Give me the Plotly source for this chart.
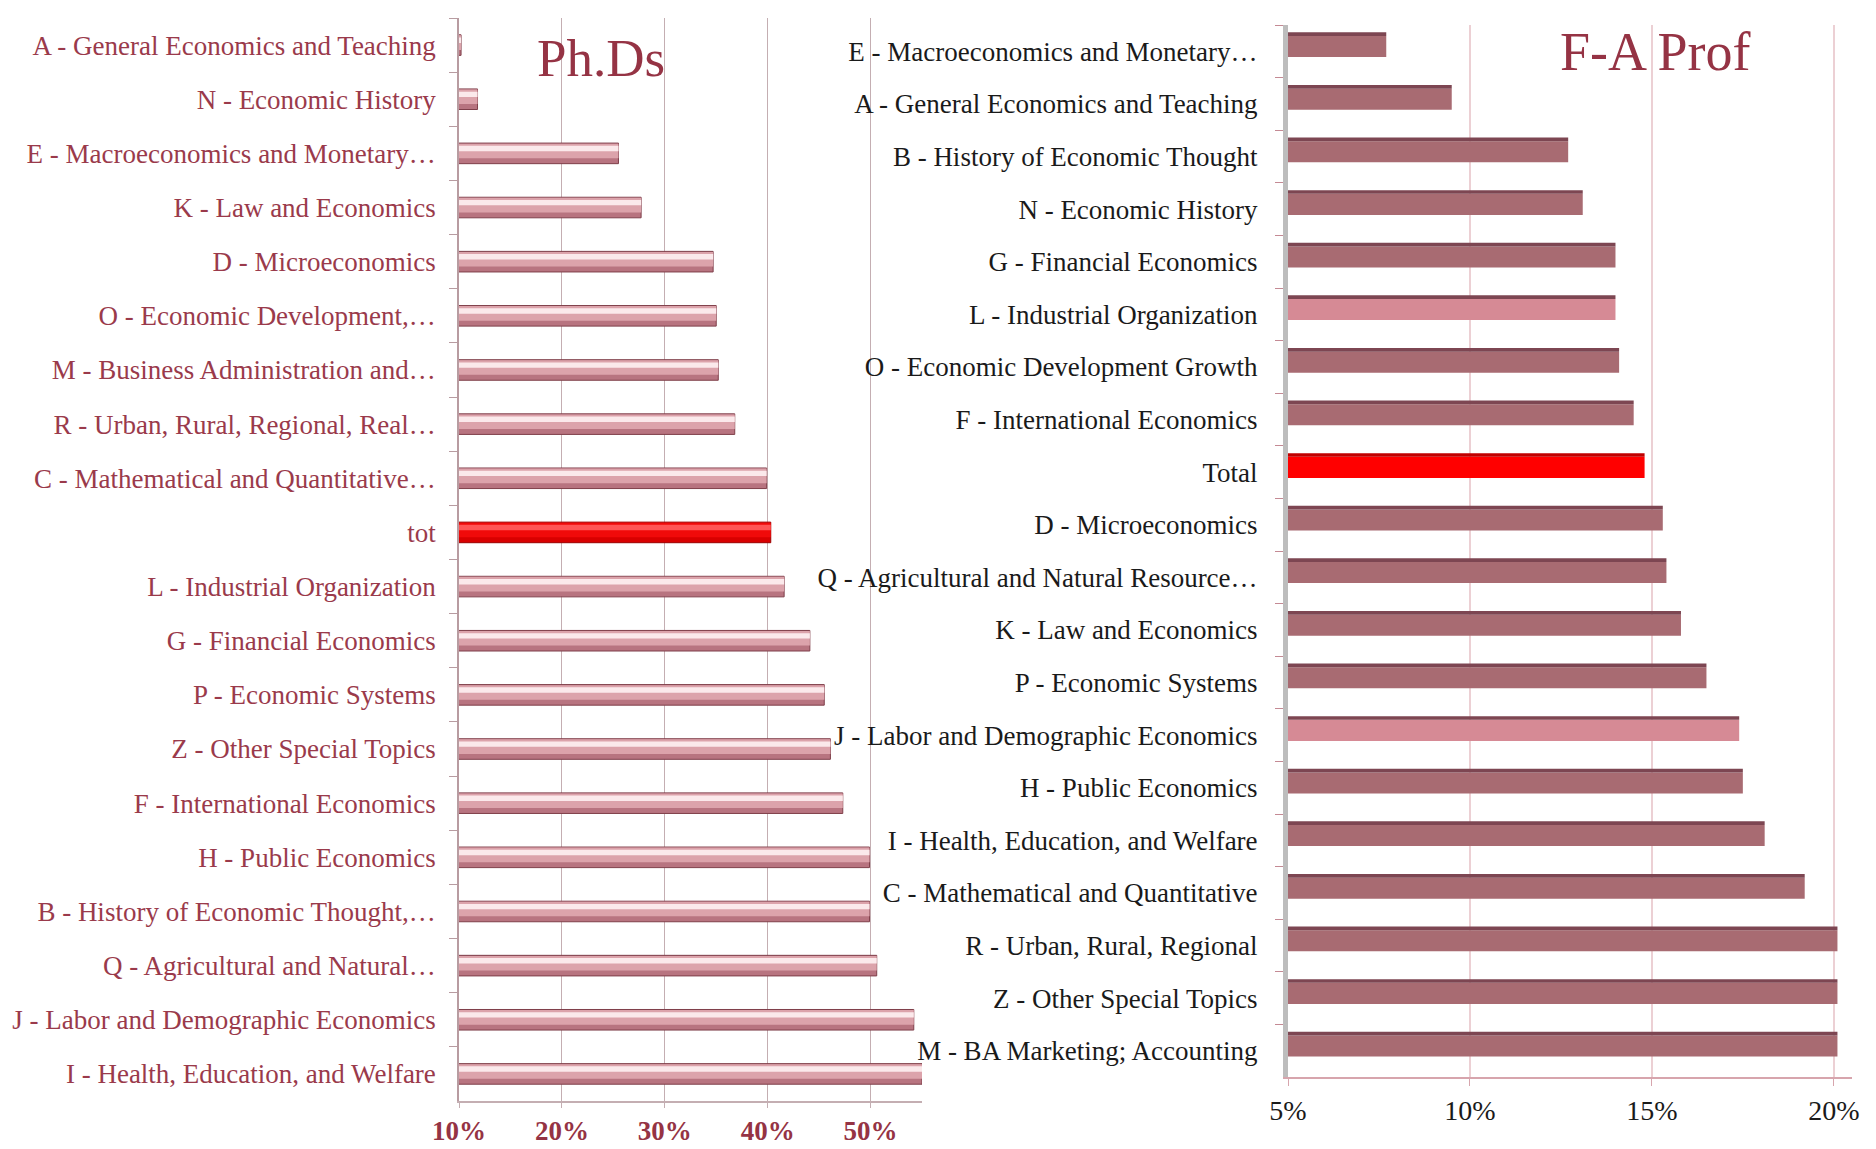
import plotly.graph_objects as go

# ---------------- data ----------------
phd_categories = [
    "A - General Economics and Teaching",
    "N - Economic History",
    "E - Macroeconomics and Monetary…",
    "K - Law and Economics",
    "D - Microeconomics",
    "O - Economic Development,…",
    "M - Business Administration and…",
    "R - Urban, Rural, Regional, Real…",
    "C - Mathematical and Quantitative…",
    "tot",
    "L - Industrial Organization",
    "G - Financial Economics",
    "P - Economic Systems",
    "Z - Other Special Topics",
    "F - International Economics",
    "H - Public Economics",
    "B - History of Economic Thought,…",
    "Q - Agricultural and Natural…",
    "J - Labor and Demographic Economics",
    "I - Health, Education, and Welfare",
]
phd_values = [10.2, 11.8, 25.5, 27.7, 34.7, 35.0, 35.2, 36.8, 39.9, 40.3,
              41.6, 44.1, 45.5, 46.1, 47.3, 49.9, 49.9, 50.6, 54.2, 55.0]

prof_categories = [
    "E - Macroeconomics and Monetary…",
    "A - General Economics and Teaching",
    "B - History of Economic Thought",
    "N - Economic History",
    "G - Financial Economics",
    "L - Industrial Organization",
    "O - Economic Development Growth",
    "F - International Economics",
    "Total",
    "D - Microeconomics",
    "Q - Agricultural and Natural Resource…",
    "K - Law and Economics",
    "P - Economic Systems",
    "J - Labor and Demographic Economics",
    "H - Public Economics",
    "I - Health, Education, and Welfare",
    "C - Mathematical and Quantitative",
    "R - Urban, Rural, Regional",
    "Z - Other Special Topics",
    "M - BA Marketing; Accounting",
]
prof_values = [7.7, 9.5, 12.7, 13.1, 14.0, 14.0, 14.1, 14.5, 14.8, 15.3,
               15.4, 15.8, 16.5, 17.4, 17.5, 18.1, 19.2, 20.1, 20.1, 20.1]

phd_ticks = [10, 20, 30, 40, 50]
prof_ticks = [5, 10, 15, 20]

# ---------------- styling ----------------
FONT = "Liberation Serif"
LEFT_TXT = "#9a3a4b"
TITLE_COL = "#953344"

def is_tot(c):
    return c in ("tot", "Total")

phd_base_col = ["#d80000" if is_tot(c) else "#b87480" for c in phd_categories]
phd_line_col = ["#9a0000" if is_tot(c) else "#7f3f4a" for c in phd_categories]
phd_mid_col = ["#f00a0a" if is_tot(c) else "#dca3ab" for c in phd_categories]
phd_hi_col = ["#ff5555" if is_tot(c) else "#fbe9eb" for c in phd_categories]

def prof_color(c):
    if is_tot(c):
        return "#ff0000"
    if c.startswith("L -") or c.startswith("J -"):
        return "#d68a95"
    return "#a86b72"

prof_base_col = [prof_color(c) for c in prof_categories]
prof_top_col = ["#c00000" if is_tot(c) else "#7d4652" for c in prof_categories]

fig = go.Figure()

# left chart (Ph.Ds): three stacked layers give the glossy bevel look
fig.add_trace(go.Bar(
    x=phd_values, y=phd_categories, orientation="h",
    width=0.38, offset=-0.19,
    marker=dict(color=phd_base_col, line=dict(color=phd_line_col, width=1)),
    xaxis="x", yaxis="y", showlegend=False,
))
fig.add_trace(go.Bar(
    x=phd_values, y=phd_categories, orientation="h",
    width=0.27, offset=-0.18,
    marker=dict(color=phd_mid_col, line=dict(width=0)),
    xaxis="x", yaxis="y", showlegend=False, hoverinfo="skip",
))
fig.add_trace(go.Bar(
    x=phd_values, y=phd_categories, orientation="h",
    width=0.10, offset=-0.14,
    marker=dict(color=phd_hi_col, line=dict(width=0)),
    xaxis="x", yaxis="y", showlegend=False, hoverinfo="skip",
))

# right chart (F-A Prof)
fig.add_trace(go.Bar(
    x=prof_values, y=prof_categories, orientation="h",
    width=0.40, offset=-0.29,
    marker=dict(color=prof_base_col, line=dict(width=0)),
    xaxis="x2", yaxis="y2", showlegend=False,
))
fig.add_trace(go.Bar(
    x=prof_values, y=prof_categories, orientation="h",
    width=0.07, offset=-0.36,
    marker=dict(color=prof_top_col, line=dict(width=0)),
    xaxis="x2", yaxis="y2", showlegend=False, hoverinfo="skip",
))

W, H = 1876, 1149

fig.update_layout(
    width=W, height=H,
    margin=dict(l=0, r=0, t=0, b=0, autoexpand=False),
    paper_bgcolor="white", plot_bgcolor="rgba(0,0,0,0)",
    barmode="overlay",
    font=dict(family=FONT, size=27),
    xaxis=dict(
        domain=[459 / W, 922 / W], range=[10, 55], anchor="y", automargin=False,
        tickvals=phd_ticks, ticktext=[f"{t}%" for t in phd_ticks],
        tickfont=dict(family=FONT, size=27, color=TITLE_COL, weight="bold"),
        showgrid=True, gridcolor="#c4aeb2", gridwidth=1.3,
        showline=True, linecolor="#c4aeb2", linewidth=1.5,
        ticks="outside", ticklen=5, tickcolor="#c4aeb2",
        zeroline=False, fixedrange=True,
    ),
    yaxis=dict(
        domain=[1 - 1101 / H, 1 - 18 / H], anchor="x", automargin=False,
        autorange="reversed", type="category",
        tickfont=dict(family=FONT, size=27, color=LEFT_TXT),
        showline=True, linecolor="#b89ca1", linewidth=1.5,
        ticks="outside", tickson="boundaries", ticklen=8, tickcolor="#b89ca1",
        ticklabelstandoff=16, showgrid=False,
    ),
    xaxis2=dict(
        domain=[1288 / W, 1852 / W], range=[5, 20.5], anchor="y2", automargin=False,
        tickvals=prof_ticks, ticktext=[f"{t}%" for t in prof_ticks],
        tickfont=dict(family=FONT, size=28, color="#1a1a1a"),
        showgrid=True, gridcolor="#ecd0d4", gridwidth=1.5,
        showline=True, linecolor="#d7a5ad", linewidth=2,
        ticks="outside", ticklen=7, tickcolor="#d7a5ad",
        zeroline=False,
    ),
    yaxis2=dict(
        domain=[1 - 1077 / H, 1 - 25 / H], anchor="x2", automargin=False,
        autorange="reversed", type="category",
        tickfont=dict(family=FONT, size=27, color="#1a1a1a"),
        showline=True, linecolor="#bdbdbd", linewidth=5,
        ticks="outside", tickson="boundaries", ticklen=8, tickcolor="#c48a94",
        ticklabelstandoff=20, showgrid=False,
    ),
    annotations=[
        dict(text="Ph.Ds", x=601 / W, y=1 - 58 / H, xref="paper", yref="paper",
             xanchor="center", yanchor="middle",
             showarrow=False, font=dict(family=FONT, size=53, color=TITLE_COL)),
        dict(text="F-A Prof", x=1655 / W, y=1 - 52 / H, xref="paper", yref="paper",
             xanchor="center", yanchor="middle",
             showarrow=False, font=dict(family=FONT, size=54, color=TITLE_COL)),
    ],
)

fig.write_html("out.html")
